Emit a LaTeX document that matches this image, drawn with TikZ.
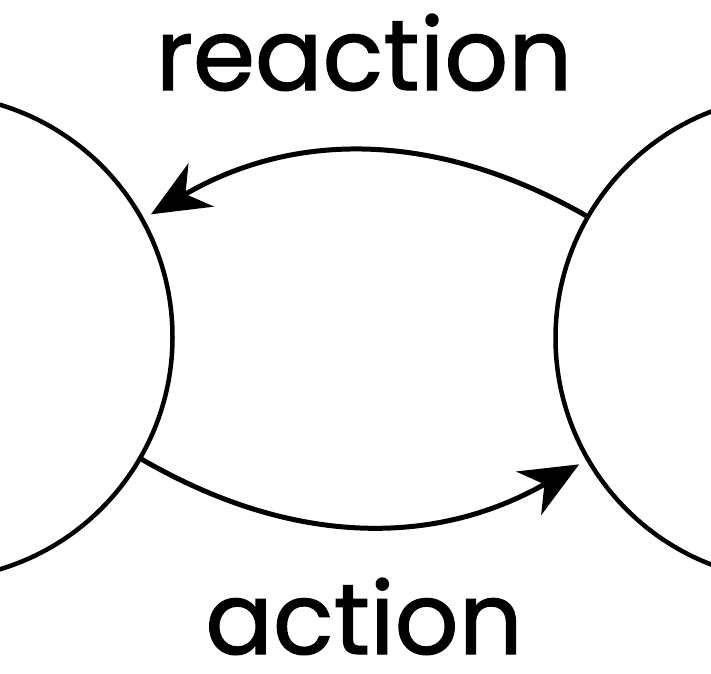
\documentclass[tikz,border=0pt]{standalone}
\usepackage{fontspec}
\setmainfont{Poppins}[FakeBold=1.2]
\usetikzlibrary{arrows.meta}

\begin{document}
\begin{tikzpicture}[x=1pt,y=-1pt,body/.style={circle, draw, line width=4.5pt, minimum size=485pt, inner sep=0pt},
     word/.style={font=\fontsize{100}{104}\selectfont, inner sep=0pt},
     arrow/.style={line width=5pt, -{Stealth[length=58pt, width=50pt, inset=18pt]}, shorten >=8pt}]
     \useasboundingbox (0,0) rectangle (711,673);
     \node (left) [body] at (-70,337) {};\node (right) [body] at (798,338) {};
     \node (reaction) [word, anchor=base] at (364,90) {reaction};\node (action) [word, anchor=base] at (364,654) {action};
     \draw [arrow] (right.150) to[bend right=30] (left.29);\draw [arrow] (left.-30) to[bend right=30] (right.210);
\end{tikzpicture}
\end{document}
